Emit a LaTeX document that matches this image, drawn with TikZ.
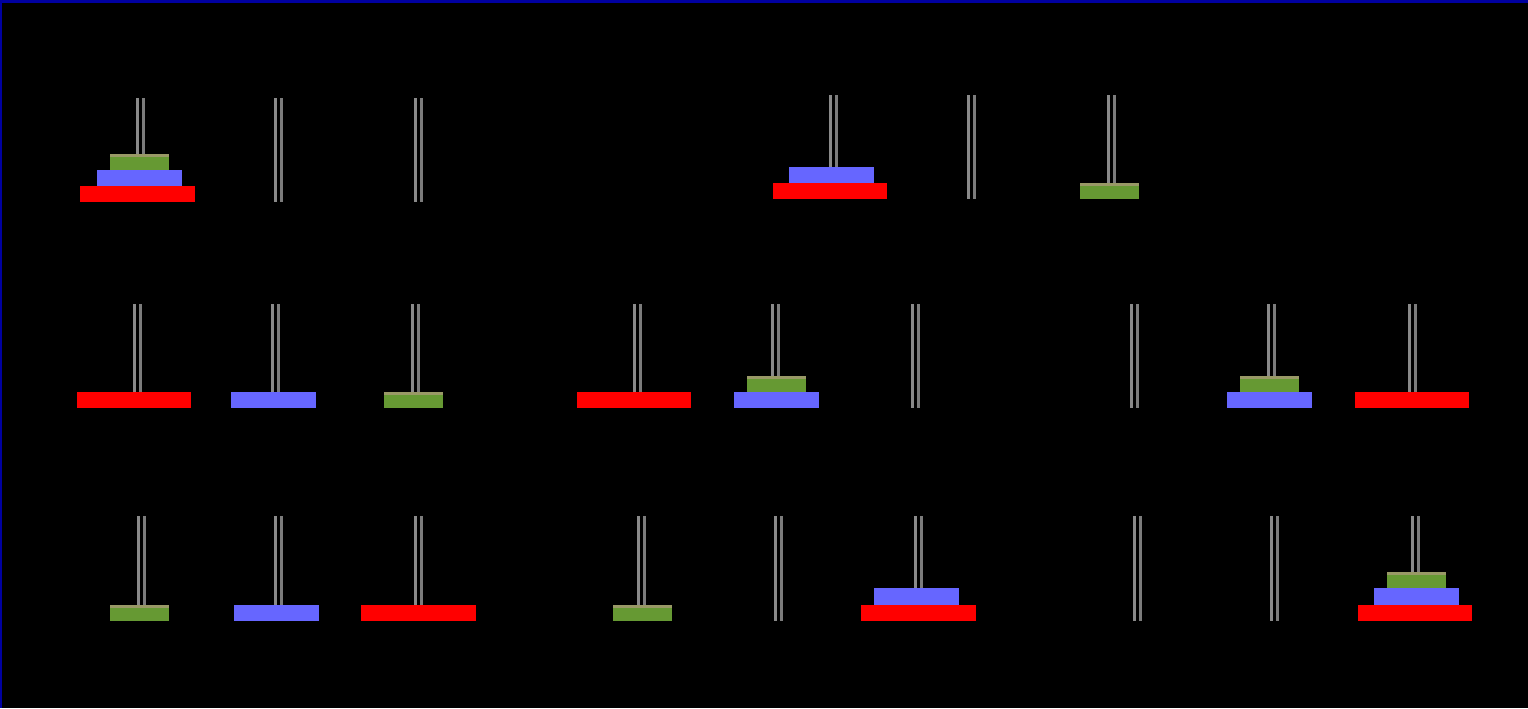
\documentclass[tikz,border=0pt]{standalone}
\usepackage{tikz}

\definecolor{pegA}{RGB}{138,138,138}
\definecolor{pegB}{RGB}{124,124,124}
\definecolor{discR}{RGB}{255,0,0}
\definecolor{discB}{RGB}{102,102,255}
\definecolor{discG}{RGB}{102,153,51}
\definecolor{discK}{RGB}{153,153,102}
\definecolor{frameB}{RGB}{0,0,160}

% peg: center, top, bottom
\newcommand{\hpeg}[3]{%
  \fill[pegA] (#1-4.5,#2) rectangle (#1-1.5,#3);
  \fill[pegB] (#1+1.5,#2) rectangle (#1+4.5,#3);}
% disc: colour, left, right, bottom
\newcommand{\hdisc}[4]{\fill[#1] (#2,#4-16.5) rectangle (#3,#4);}
% small green disc with its light top
\newcommand{\gdisc}[3]{%
  \fill[discG] (#1,#3-16.5) rectangle (#2,#3);
  \fill[discK] (#1,#3-16.5) rectangle (#2,#3-13);}

\begin{document}
\begin{tikzpicture}[x=0.5pt,y=-0.5pt]
\useasboundingbox (0,0) rectangle (1528,708);
\fill[black] (0,0) rectangle (1528,708);
\fill[frameB] (0,0) rectangle (1528,3);
\fill[frameB] (0,0) rectangle (2,708);

% row 1
\foreach \c in {140.5,278,418.5} {\hpeg{\c}{98}{202}}
\foreach \c in {833.5,971,1111} {\hpeg{\c}{95}{199}}
\hdisc{discR}{80}{195}{202}
\hdisc{discB}{97}{182}{186}
\gdisc{110}{169}{170}
\hdisc{discR}{773}{887}{199}
\hdisc{discB}{789}{874}{183}
\gdisc{1080}{1139}{199}

% row 2
\foreach \c in {137.5,275,415,637.5,775,915,1134,1271,1412} {\hpeg{\c}{304}{408}}
\hdisc{discR}{77}{191}{408}
\hdisc{discB}{231}{316}{408}
\gdisc{384}{443}{408}
\hdisc{discR}{577}{691}{408}
\hdisc{discB}{734}{819}{408}
\gdisc{747}{806}{392}
\hdisc{discB}{1227}{1312}{408}
\gdisc{1240}{1299}{392}
\hdisc{discR}{1355}{1469}{408}

% row 3
\foreach \c in {141,278,418.5,641,778,918.5,1137,1274.5,1415} {\hpeg{\c}{516}{621}}
\gdisc{110}{169}{621}
\hdisc{discB}{234}{319}{621}
\hdisc{discR}{361}{476}{621}
\gdisc{613}{672}{621}
\hdisc{discR}{861}{976}{621}
\hdisc{discB}{874}{959}{604.5}
\hdisc{discR}{1358}{1472}{621}
\hdisc{discB}{1374}{1459}{604.5}
\gdisc{1387}{1446}{588}
\end{tikzpicture}
\end{document}
